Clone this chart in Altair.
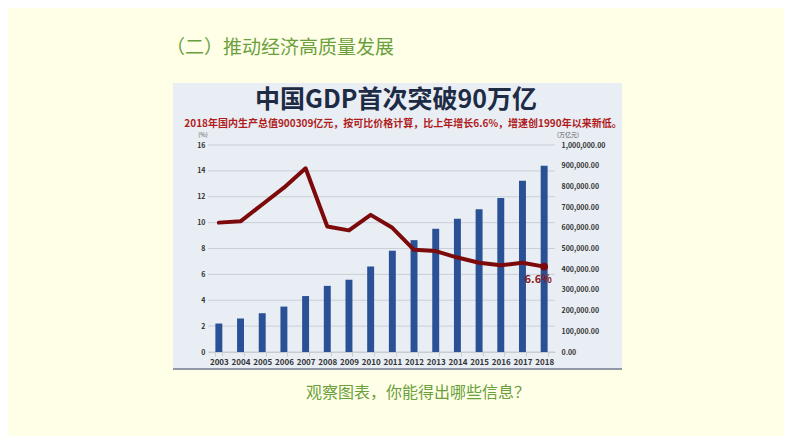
import altair as alt
import pandas as pd

years = list(range(2003, 2019))
gdp = [137422, 161840, 187319, 219439, 270232, 319516, 349081, 413030,
       489301, 540367, 595244, 643974, 689052, 743585, 827122, 900309]
growth = [10.0, 10.1, 11.4, 12.7, 14.2, 9.7, 9.4, 10.6,
          9.6, 7.9, 7.8, 7.3, 6.9, 6.7, 6.9, 6.6]
left_ticks = [0, 2, 4, 6, 8, 10, 12, 14, 16]
right_ticks = [0, 100000, 200000, 300000, 400000, 500000, 600000, 700000, 800000, 900000, 1000000]

heading = "（二）推动经济高质量发展"
title = "中国GDP首次突破90万亿"
subtitle = "2018年国内生产总值900309亿元，按可比价格计算，比上年增长6.6%，增速创1990年以来新低。"
question = "观察图表，你能得出哪些信息？"

FONT = "Noto Sans CJK SC"
W, H = 347, 207

df = pd.DataFrame({"year": years, "gdp": gdp, "growth": growth})
grid_df = pd.DataFrame({"g": left_ticks})
one = pd.DataFrame({"k": [0]})

x_enc = alt.X("year:O", title=None, scale=alt.Scale(paddingInner=0.68, paddingOuter=0.34),
              axis=alt.Axis(labelAngle=0, labelFont=FONT, labelFontSize=8, labelFontWeight="bold",
                            labelColor="#333333", domainColor="#C8CDD2", tickColor="#C8CDD2",
                            tickBand="extent", tickSize=4, labelPadding=2, grid=False, zindex=1))

panel = alt.Chart(one).mark_rect(color="#E8EEF4").encode(
    x=alt.value(-35), x2=alt.value(414), y=alt.value(-62), y2=alt.value(224))
panel_edge = alt.Chart(one).mark_rule(color="#8F9AA6", strokeWidth=2).encode(
    x=alt.value(-35), x2=alt.value(414), y=alt.value(224))

def txt(s, x, y, size, color, weight="normal", align="center"):
    return alt.Chart(one).mark_text(font=FONT, fontSize=size, color=color, fontWeight=weight,
                                    align=align, baseline="middle").encode(
        x=alt.value(x), y=alt.value(y), text=alt.value(s))

t_heading = txt(heading, -42, -97, 19, "#6A9F3C", align="left")
t_title = txt(title, 188, -45, 25, "#1E2B45", weight="bold")
t_sub = txt(subtitle, 195, -21, 10, "#B01C1C", weight="bold")
t_pct = txt("(%)", -5, -10, 6, "#555555")
t_unit = txt("(万亿元)", 360, -10, 6, "#555555")
t_q = txt(question, 210, 248, 16, "#6A9F3C")

grid = alt.Chart(grid_df).mark_rule(color="#C9CFD6", strokeWidth=1).encode(
    y=alt.Y("g:Q", scale=alt.Scale(domain=[0, 16]), axis=None),
    x=alt.value(0), x2=alt.value(W))

bars = alt.Chart(df).mark_bar(color="#2A5095").encode(
    x=x_enc,
    y=alt.Y("gdp:Q", title=None, scale=alt.Scale(domain=[0, 1000000]),
            axis=alt.Axis(orient="right", values=right_ticks, format=",.2f", labelFont=FONT,
                          labelFontSize=7, labelColor="#333333", labelFontWeight="bold",
                          domain=False, ticks=False, grid=False, labelPadding=6, zindex=1)))

line = alt.Chart(df).mark_line(color="#7D0A0A", strokeWidth=4, strokeJoin="round", strokeCap="round").encode(
    x=x_enc,
    y=alt.Y("growth:Q", title=None, scale=alt.Scale(domain=[0, 16]),
            axis=alt.Axis(orient="left", values=left_ticks, labelFont=FONT, labelFontSize=7,
                          labelColor="#333333", labelFontWeight="bold", domain=False, ticks=False,
                          grid=False, labelPadding=3, zindex=1)))

last = alt.Chart(df).transform_filter(alt.datum.year == 2018)
pt = last.mark_point(filled=True, color="#7D0A0A", size=60, opacity=1).encode(
    x=x_enc, y=alt.Y("growth:Q", scale=alt.Scale(domain=[0, 16]), axis=None))
lbl = last.transform_calculate(t="format(datum.growth, '.1f') + '%'").mark_text(
    font=FONT, fontSize=11, fontWeight="bold", color="#8B1A1A", dx=-6, dy=13).encode(
    x=x_enc, y=alt.Y("growth:Q", scale=alt.Scale(domain=[0, 16]), axis=None), text="t:N")

chart = alt.layer(panel, panel_edge, t_heading, t_title, t_sub, t_pct, t_unit, t_q,
                  grid, bars, line, pt, lbl).resolve_scale(y="independent").properties(
    width=W, height=H,
    padding={"left": 200, "top": 137, "right": 229, "bottom": 84},
    autosize=alt.AutoSizeParams(type="none"),
    background="#FFFFE8",
).configure_view(stroke=None)

chart.save("out.html", embed_options={"renderer": "svg", "actions": False})
